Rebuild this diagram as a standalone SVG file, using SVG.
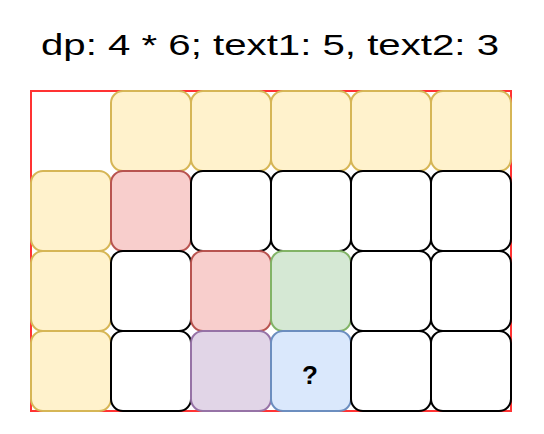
<svg xmlns="http://www.w3.org/2000/svg" width="544" height="434" viewBox="0 0 544 434">
<style>
.c{stroke-width:2}
.y{fill:#fff2cc;stroke:#d6b656}
.r{fill:#f8cecc;stroke:#b85450}
.g{fill:#d5e8d4;stroke:#82b366}
.p{fill:#e1d5e7;stroke:#9673a6}
.b{fill:#dae8fc;stroke:#6c8ebf}
.w{fill:#ffffff;stroke:#000000}
text{font-family:"Comic Sans MS","Liberation Sans",sans-serif;fill:#000}
</style>
<rect width="544" height="434" fill="#ffffff"/>
<text x="270" y="55" font-size="29" text-anchor="middle" textLength="458" lengthAdjust="spacingAndGlyphs">dp: 4 * 6; text1: 5, text2: 3</text>
<rect id="border" x="31" y="91" width="480" height="320" fill="none" stroke="#ff3333" stroke-width="2"/>
<g id="cells">
<g id="r0c1"><rect class="c y" x="111" y="91" width="80" height="80" rx="12"/></g>
<g id="r0c2"><rect class="c y" x="191" y="91" width="80" height="80" rx="12"/></g>
<g id="r0c3"><rect class="c y" x="271" y="91" width="80" height="80" rx="12"/></g>
<g id="r0c4"><rect class="c y" x="351" y="91" width="80" height="80" rx="12"/></g>
<g id="r0c5"><rect class="c y" x="431" y="91" width="80" height="80" rx="12"/></g>
<g id="r1c0"><rect class="c y" x="31" y="171" width="80" height="80" rx="12"/></g>
<g id="r1c1"><rect class="c r" x="111" y="171" width="80" height="80" rx="12"/></g>
<g id="r1c2"><rect class="c w" x="191" y="171" width="80" height="80" rx="12"/></g>
<g id="r1c3"><rect class="c w" x="271" y="171" width="80" height="80" rx="12"/></g>
<g id="r1c4"><rect class="c w" x="351" y="171" width="80" height="80" rx="12"/></g>
<g id="r1c5"><rect class="c w" x="431" y="171" width="80" height="80" rx="12"/></g>
<g id="r2c0"><rect class="c y" x="31" y="251" width="80" height="80" rx="12"/></g>
<g id="r2c1"><rect class="c w" x="111" y="251" width="80" height="80" rx="12"/></g>
<g id="r2c2"><rect class="c r" x="191" y="251" width="80" height="80" rx="12"/></g>
<g id="r2c3"><rect class="c g" x="271" y="251" width="80" height="80" rx="12"/></g>
<g id="r2c4"><rect class="c w" x="351" y="251" width="80" height="80" rx="12"/></g>
<g id="r2c5"><rect class="c w" x="431" y="251" width="80" height="80" rx="12"/></g>
<g id="r3c0"><rect class="c y" x="31" y="331" width="80" height="80" rx="12"/></g>
<g id="r3c1"><rect class="c w" x="111" y="331" width="80" height="80" rx="12"/></g>
<g id="r3c2"><rect class="c p" x="191" y="331" width="80" height="80" rx="12"/></g>
<g id="r3c3"><rect class="c b" x="271" y="331" width="80" height="80" rx="12"/><text x="310" y="384" font-size="26" font-weight="bold" text-anchor="middle">?</text></g>
<g id="r3c4"><rect class="c w" x="351" y="331" width="80" height="80" rx="12"/></g>
<g id="r3c5"><rect class="c w" x="431" y="331" width="80" height="80" rx="12"/></g>
</g>
<g id="connectors"/>
</svg>
